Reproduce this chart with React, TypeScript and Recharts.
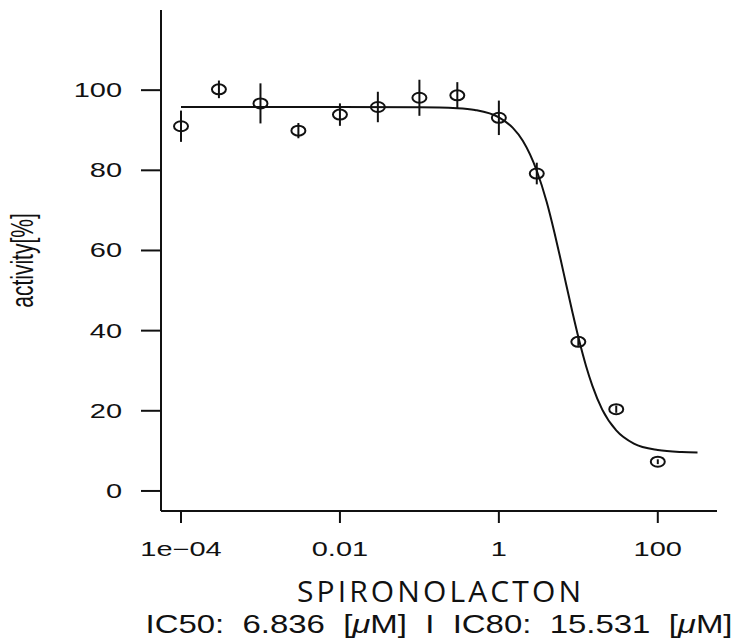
import { ComposedChart, Line, Scatter, ErrorBar, XAxis, YAxis } from "recharts"

// measured doses (µM) and mean activity with sd
const doses = [0.0001, 0.0003, 0.001, 0.003, 0.01, 0.03, 0.1, 0.3, 1, 3, 10, 30, 100]
const activity = [91.0, 100.2, 96.7, 89.9, 93.9, 95.8, 98.1, 98.7, 93.1, 79.2, 37.2, 20.4, 7.3]
const sd = [3.9, 2.2, 5.0, 1.9, 2.8, 3.8, 4.5, 3.3, 4.3, 2.7, 1.0, 0.9, 0.6]

// fitted curve
const fitDoses = [0.0001, 0.001, 0.01, 0.1, 0.3, 0.5, 1, 1.5, 2, 3, 4, 5, 6, 7, 8.5, 10, 12.5, 15, 20, 30, 50, 100, 200, 316]
const fitValues = [95.8, 95.8, 95.8, 95.75, 95.5, 95.05, 93.2, 90.6, 87.4, 79.9, 72.1, 64.5, 57.7, 51.7, 44.3, 38.4, 31.2, 26.3, 20.3, 15.1, 11.8, 10.2, 9.7, 9.6]

const xTicks = [0.0001, 0.01, 1, 100]
const xTickLabels = ["1e\u221204", "0.01", "1", "100"]
const yTicks = [0, 20, 40, 60, 80, 100]

const compound = "SPIRONOLACTON"
const ic50 = "6.836"
const ic80 = "15.531"

const points = doses.map((d, i) => ({ conc: d, activity: activity[i], sd: sd[i] }))
const curve = fitDoses.map((d, i) => ({ conc: d, fit: fitValues[i] }))

const ink = "#111"
const font = "'Liberation Sans', Arial, sans-serif"

const XTick = ({ x, y, payload }: any) => {
  const i = xTicks.indexOf(payload.value)
  return (
    <text transform={`translate(${x},${y + 14}) scale(1.45,1)`} textAnchor="middle" fontSize={20} fontFamily={font} fill={ink}>
      {xTickLabels[i] ?? payload.value}
    </text>
  )
}

const YTick = ({ x, y, payload }: any) => (
  <text transform={`translate(${x},${y + 7}) scale(1.45,1)`} textAnchor="end" fontSize={20} fontFamily={font} fill={ink}>
    {payload.value}
  </text>
)

const Ring = ({ cx, cy }: any) => <ellipse cx={cx} cy={cy} rx={7} ry={5} fill="none" stroke={ink} strokeWidth={2} />

const XTitle = ({ viewBox }: any) => {
  const cx = viewBox.x + viewBox.width / 2
  return (
    <g>
      <text x={cx} y={viewBox.y + 91} textAnchor="middle" fontSize={30} fontFamily="'Open Sans', sans-serif" fill={ink} textLength={284} lengthAdjust="spacing">
        {compound}
      </text>
      <text x={cx} y={viewBox.y + 122} textAnchor="middle" fontSize={25} fontFamily={font} fill={ink} textLength={587} lengthAdjust="spacingAndGlyphs" style={{ whiteSpace: "pre" }}>
        {`IC50:  ${ic50}  [`}
        <tspan fontStyle="italic">μ</tspan>
        {`M]  I  IC80:  ${ic80}  [`}
        <tspan fontStyle="italic">μ</tspan>
        {"M]"}
      </text>
    </g>
  )
}

const YTitle = ({ viewBox }: any) => (
  <text transform={`translate(${viewBox.x + 33},${viewBox.y + viewBox.height / 2}) scale(1.5,1) rotate(-90)`} textAnchor="middle" fontSize={21} fontFamily={font} fill={ink}>
    activity[%]
  </text>
)

export default function App() {
  return (
    <div style={{ position: "absolute", left: 0, top: 0, background: "#fff" }}>
      <ComposedChart width={739} height={642} margin={{ top: 10, right: 22, bottom: 0, left: 0 }}>
        <XAxis
          dataKey="conc"
          type="number"
          scale="log"
          domain={[0.000056, 556]}
          allowDataOverflow
          ticks={xTicks}
          height={131}
          tickSize={12}
          tickMargin={19}
          tick={<XTick />}
          axisLine={{ stroke: ink, strokeWidth: 2 }}
          tickLine={{ stroke: ink, strokeWidth: 2 }}
          label={{ content: <XTitle /> }}
        />
        <YAxis
          type="number"
          domain={[-5, 120]}
          ticks={yTicks}
          width={161}
          tickSize={20}
          tickMargin={19}
          tick={<YTick />}
          axisLine={{ stroke: ink, strokeWidth: 2 }}
          tickLine={{ stroke: ink, strokeWidth: 2 }}
          label={{ content: <YTitle /> }}
        />
        <Line data={curve} dataKey="fit" type="monotone" stroke={ink} strokeWidth={2} dot={false} isAnimationActive={false} />
        <Scatter data={points} dataKey="activity" shape={<Ring />} isAnimationActive={false}>
          <ErrorBar dataKey="sd" direction="y" width={0} stroke={ink} strokeWidth={2} />
        </Scatter>
      </ComposedChart>
    </div>
  )
}
